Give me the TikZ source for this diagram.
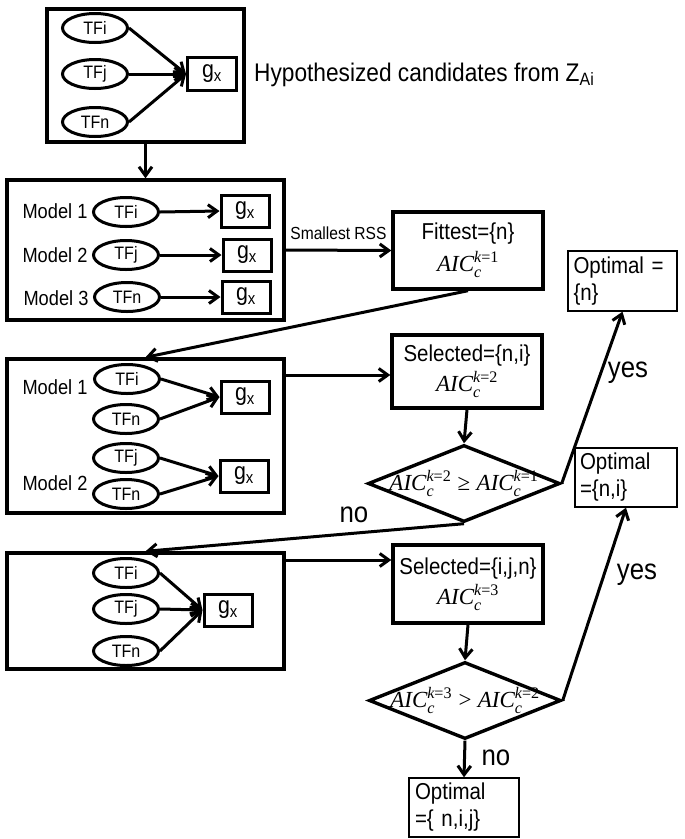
\documentclass[tikz,border=0pt]{standalone}
\usepackage{fontspec}
\usepackage{amsmath}
\setmainfont[FakeStretch=0.89]{Liberation Sans}
\newfontfamily\tms{Liberation Serif}
\usetikzlibrary{shapes.geometric,arrows.meta,calc}
\newcommand{\aic}[1]{\mbox{\tms\itshape AIC}$_{\text{\tms\itshape c}}^{\text{\tms\itshape k\upshape =#1}}$}
\newcommand{\gx}{g\textsubscript{x}}
\begin{document}
\begin{tikzpicture}[x=1pt,y=-1pt,
  bigbox/.style={draw, line width=3.4pt, inner sep=0pt},
  tf/.style={draw, ellipse, line width=3pt, minimum width=65pt, minimum height=29pt, inner sep=0pt, font=\fontsize{18}{20}\selectfont},
  gbox/.style={draw, line width=3pt, minimum width=48pt, minimum height=32pt, inner sep=0pt, font=\fontsize{24}{26}\selectfont},
  lbl/.style={inner sep=0pt, font=\fontsize{20.5}{22}\selectfont},
  decbox/.style={draw, line width=3.4pt, minimum width=150pt, inner sep=0pt, align=center, font=\fontsize{23}{26}\selectfont},
  optbox/.style={draw, line width=1.4pt, inner sep=0pt, align=left, font=\fontsize{23}{27}\selectfont},
  dia/.style={draw, diamond, line width=3.4pt, minimum width=192pt, minimum height=77pt, inner sep=0pt},
  arr/.style={-{Straight Barb[length=9pt,width=13pt]}, line width=3pt},
  yn/.style={inner sep=0pt, font=\fontsize{29}{32}\selectfont}]
\useasboundingbox (0,0) rectangle (685,839);

% ---------- box 1 ----------
\node[bigbox, minimum width=197pt, minimum height=133pt] (b1) at (145.5,75.5) {};
\node[tf] (a1) at (95,28) {TFi};
\node[tf] (a2) at (95,74) {TFj};
\node[tf] (a3) at (95,122) {TFn};
\node[gbox, minimum width=49pt, minimum height=33pt] (ag) at (212,74) {\gx};
\draw[arr] (a1.east) -- (ag.west);
\draw[arr] (a2.east) -- (ag.west);
\draw[arr] (a3.east) -- (ag.west);
\node[anchor=west, inner sep=0pt, font=\fontsize{25.5}{28}\selectfont] (hyp) at (254,75) {Hypothesized candidates from Z\textsubscript{Ai}};

% ---------- box 2 ----------
\node[bigbox, minimum width=277pt, minimum height=140pt] (b2) at (145.5,250) {};
\node[lbl] (m21) at (55,211) {Model 1};
\node[lbl] (m22) at (55,255) {Model 2};
\node[lbl] (m23) at (56,298) {Model 3};
\node[tf] (b2a) at (126,212) {TFi};
\node[tf] (b2b) at (126,255) {TFj};
\node[tf] (b2c) at (127,297) {TFn};
\node[gbox] (b2ga) at (245,211) {\gx};
\node[gbox] (b2gb) at (247,255) {\gx};
\node[gbox] (b2gc) at (246,297) {\gx};
\draw[arr] (b2a.east) -- (b2ga.west);
\draw[arr] (b2b.east) -- (b2gb.west);
\draw[arr] (b2c.east) -- (b2gc.west);

% ---------- box 3 ----------
\node[bigbox, minimum width=277pt, minimum height=154pt] (b3) at (145.5,436) {};
\node[lbl] (m31) at (55,387) {Model 1};
\node[lbl] (m32) at (55,483) {Model 2};
\node[tf] (c1) at (127,379) {TFi};
\node[tf] (c2) at (126,419) {TFn};
\node[tf] (c3) at (126,458) {TFj};
\node[tf] (c4) at (126,494) {TFn};
\node[gbox] (cg1) at (245,397) {\gx};
\node[gbox] (cg2) at (244,476) {\gx};
\draw[arr] (c1.east) -- (cg1.west);
\draw[arr] (c2.east) -- (cg1.west);
\draw[arr] (c3.east) -- (cg2.west);
\draw[arr] (c4.east) -- (cg2.west);

% ---------- box 4 ----------
\node[bigbox, minimum width=277pt, minimum height=116pt] (b4) at (145.5,611) {};
\node[tf] (d1) at (126,573) {TFi};
\node[tf] (d2) at (126,609) {TFj};
\node[tf] (d3) at (126,651) {TFn};
\node[gbox] (dg) at (228,610) {\gx};
\draw[arr] (d1.east) -- (dg.west);
\draw[arr] (d2.east) -- (dg.west);
\draw[arr] (d3.east) -- (dg.west);

% ---------- decision column ----------
\node[decbox, minimum height=77pt] (fit) at (468,250.5) {Fittest=\{n\}\\[6pt]{\fontsize{23}{26}\selectfont\aic{1}}};
\node[decbox, minimum height=73pt] (sel1) at (467,371.5) {Selected=\{n,i\}\\[4pt]{\fontsize{23}{26}\selectfont\aic{2}}};
\node[decbox, minimum height=78pt] (sel2) at (468,584) {Selected=\{i,j,n\}\\[4pt]{\fontsize{23}{26}\selectfont\aic{3}}};
\node[dia, label={[font=\fontsize{23}{26}\selectfont]center:{\aic{2}\;{\tms ≥}\;\aic{1}}}] (dia1) at (464,483.5) {};
\node[dia, label={[font=\fontsize{23}{26}\selectfont]center:{\aic{3}\;{\tms >}\;\aic{2}}}] (dia2) at (465,700.5) {};

\node[optbox, minimum width=109pt, minimum height=60pt, text width=98pt] (opt1) at (622.5,281) {Optimal =\\\{n\}};
\node[optbox, minimum width=102pt, minimum height=59pt, text width=92pt] (opt2) at (626,477.5) {Optimal\\=\{n,i\}};
\node[optbox, minimum width=110pt, minimum height=59pt, text width=98pt] (opt3) at (464,807.5) {Optimal\\=\{ n,i,j\}};

% ---------- connectors ----------
\draw[arr] (b1.south) -- (b2.north);
\draw[arr] (b2.east) -- node[above=9pt, inner sep=0pt, font=\fontsize{17.5}{19}\selectfont] (rss) {Smallest RSS} (fit.west);
\draw[arr] (fit.south) -- (b3.north);
\draw[arr] (b3.east |- 0,375) -- (sel1.west |- 0,375);
\draw[arr] (sel1.south) -- (dia1.north);
\draw[arr] (dia1.east) -- (opt1.south);
\draw[arr] (dia1.south) -- (b4.north);
\draw[arr] (b4.east |- 0,560) -- (sel2.west |- 0,560);
\draw[arr] (sel2.south) -- (dia2.north);
\draw[arr] (dia2.east) -- (opt2.south);
\draw[arr] (dia2.south) -- (opt3.north);

\node[yn] (yes1) at (628,373) {yes};
\node[yn] (yes2) at (637,575) {yes};
\node[yn] (no1) at (354,515) {no};
\node[yn] (no2) at (496,758) {no};
\end{tikzpicture}
\end{document}
